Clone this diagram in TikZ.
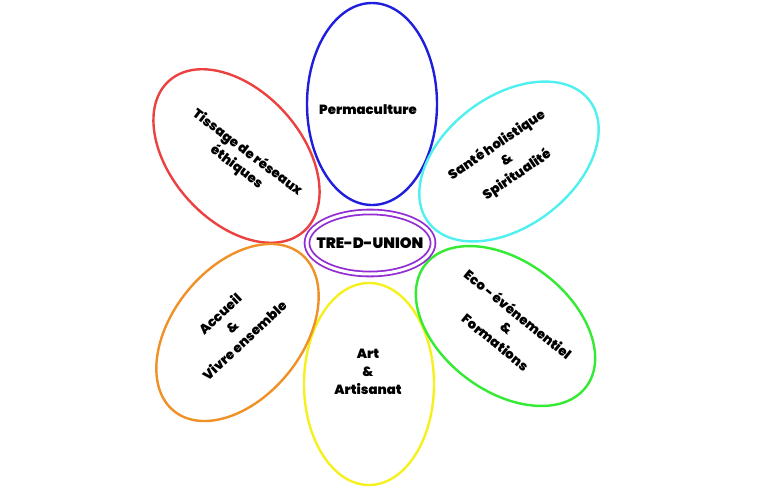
\documentclass[tikz,border=0pt]{standalone}
\usepackage{fontspec}
\setmainfont{Poppins}[BoldFont={Poppins Black}]
\usetikzlibrary{shapes.geometric}
\definecolor{cBlue}{RGB}{30,30,220}
\definecolor{cCyan}{RGB}{80,240,240}
\definecolor{cGreen}{RGB}{50,235,50}
\definecolor{cYellow}{RGB}{245,240,30}
\definecolor{cOrange}{RGB}{240,145,40}
\definecolor{cRed}{RGB}{235,65,65}
\definecolor{cPurple}{RGB}{145,45,210}
\tikzset{
  petal/.style={draw=#1, ellipse, line width=2.4pt, inner sep=0pt, minimum width=202pt, minimum height=130pt},
  lbl/.style={font=\bfseries\fontsize{13.3}{18}\selectfont, align=center, inner sep=0pt},
  hub/.style={draw=cPurple, fill=white, ellipse, double=white, double distance=3pt, line width=1.8pt, inner sep=0pt, minimum width=126pt, minimum height=62pt}
}
\begin{document}
\begin{tikzpicture}[x=1pt,y=-1pt]
\useasboundingbox (0,0) rectangle (780,488);
\node[petal=cBlue, rotate=90] (pBlue) at (372,104) {};
\node[petal=cYellow, rotate=90] (pYellow) at (369,384) {};
\node[petal=cRed, rotate=-48] (pRed) at (236.5,156) {};
\node[petal=cCyan, rotate=37] (pCyan) at (509,161.5) {};
\node[petal=cGreen, rotate=-37] (pGreen) at (505.5,326) {};
\node[petal=cOrange, rotate=51] (pOrange) at (237.5,332.5) {};
\node[hub] (hub) at (370,243) {};
\node[font=\bfseries\fontsize{15}{17}\selectfont, inner sep=0pt] (tHub) at (hub) {TRE-D-UNION};
\node[lbl] (tBlue) at (368,110) {Permaculture};
\node[lbl] (tYellow) at (368,372) {Art\\\&\\Artisanat};
\node[lbl, rotate=-37] (tRed) at (242,160) {Tissage de réseaux\\éthiques};
\node[lbl, rotate=34] (tCyan) at (507,160) {Santé holistique\\\&\\Spiritualité};
\node[lbl, rotate=-39] (tGreen) at (507,328) {Eco - événementiel\\\&\\Formations};
\node[lbl, rotate=43] (tOrange) at (232,327) {Accueil\\\&\\Vivre ensemble};
\end{tikzpicture}
\end{document}
